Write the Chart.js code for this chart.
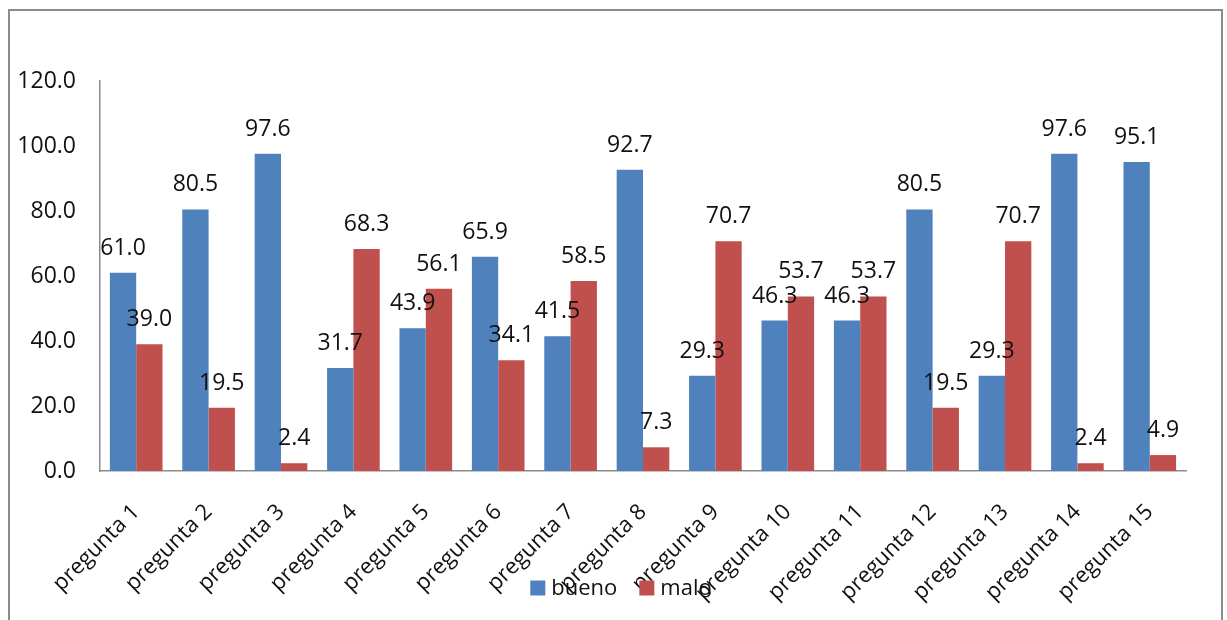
<!DOCTYPE html>
<html>
<head>
<meta charset="utf-8">
<script src="https://cdn.jsdelivr.net/npm/chart.js@4/dist/chart.umd.min.js"></script>
<style>
  html, body { margin: 0; padding: 0; background: #fff; overflow: hidden; }
  #wrap { position: relative; width: 1227px; height: 620px; }
  #frame { position: absolute; left: 8px; top: 9px; width: 1211px; height: 700px;
           border: 2px solid #8c8c8c; pointer-events: none; }
  canvas { position: absolute; left: 0; top: 0; }
</style>
</head>
<body>
<div id="wrap">
  <canvas id="c" width="1227" height="620"></canvas>
  <div id="frame"></div>
</div>
<script>
const categories = ['pregunta 1','pregunta 2','pregunta 3','pregunta 4','pregunta 5',
  'pregunta 6','pregunta 7','pregunta 8','pregunta 9','pregunta 10',
  'pregunta 11','pregunta 12','pregunta 13','pregunta 14','pregunta 15'];
const bueno = [61.0, 80.5, 97.6, 31.7, 43.9, 65.9, 41.5, 92.7, 29.3, 46.3, 46.3, 80.5, 29.3, 97.6, 95.1];
const malo  = [39.0, 19.5, 2.4, 68.3, 56.1, 34.1, 58.5, 7.3, 70.7, 53.7, 53.7, 19.5, 70.7, 2.4, 4.9];
const yTicks = [0, 20, 40, 60, 80, 100, 120];

const FONT = '"Open Sans", sans-serif';
const TEXT = '#111';
const AXIS = '#8c8c8c';

// value labels above each bar
const valueLabels = {
  id: 'valueLabels',
  afterDatasetsDraw(chart) {
    const ctx = chart.ctx;
    ctx.save();
    ctx.font = '23px ' + FONT;
    ctx.fillStyle = TEXT;
    ctx.textAlign = 'center';
    ctx.textBaseline = 'alphabetic';
    chart.data.datasets.forEach((ds, i) => {
      chart.getDatasetMeta(i).data.forEach((bar, j) => {
        ctx.fillText(ds.data[j].toFixed(1), bar.x, bar.y - 18);
      });
    });
    ctx.restore();
  }
};

// legend drawn over the lower band of the category labels
const bottomLegend = {
  id: 'bottomLegend',
  afterDraw(chart) {
    const ctx = chart.ctx;
    ctx.save();
    ctx.font = '22px ' + FONT;
    ctx.textBaseline = 'middle';
    ctx.textAlign = 'left';
    const box = 15, gapText = 6, gapItem = 22, cy = 588;
    const items = chart.data.datasets.map(ds => ({
      label: ds.label, color: ds.backgroundColor,
      w: box + gapText + ctx.measureText(ds.label).width
    }));
    const total = items.reduce((s, it) => s + it.w, 0) + gapItem * (items.length - 1);
    let x = 621 - total / 2;
    items.forEach(it => {
      ctx.fillStyle = it.color;
      ctx.fillRect(x, cy - box / 2, box, box);
      ctx.fillStyle = TEXT;
      ctx.fillText(it.label, x + box + gapText, cy + 1);
      x += it.w + gapItem;
    });
    ctx.restore();
  }
};

new Chart(document.getElementById('c'), {
  type: 'bar',
  data: {
    labels: categories,
    datasets: [
      { label: 'bueno', data: bueno, backgroundColor: '#4F81BD' },
      { label: 'malo',  data: malo,  backgroundColor: '#C0504D' }
    ]
  },
  options: {
    responsive: false,
    animation: false,
    layout: { padding: { top: 81, right: 41, bottom: 0, left: 0 } },
    datasets: { bar: { categoryPercentage: 0.727, barPercentage: 1.0 } },
    plugins: { legend: { display: false }, tooltip: { enabled: false } },
    scales: {
      x: {
        grid: { display: false },
        border: { display: true, color: AXIS, width: 1.5 },
        ticks: {
          color: TEXT, font: { family: FONT, size: 22 },
          minRotation: 45, maxRotation: 45, autoSkip: false, padding: 20
        },
        afterFit(scale) { scale.height = 149; }
      },
      y: {
        min: 0, max: 120,
        grid: { display: false },
        border: { display: true, color: AXIS, width: 1.5 },
        afterBuildTicks(scale) { scale.ticks = yTicks.map(v => ({ value: v })); },
        ticks: {
          color: TEXT, font: { family: FONT, size: 23 }, padding: 16,
          callback: v => Number(v).toFixed(1)
        },
        afterFit(scale) { scale.width = 100; }
      }
    }
  },
  plugins: [valueLabels, bottomLegend]
});
</script>
</body>
</html>
